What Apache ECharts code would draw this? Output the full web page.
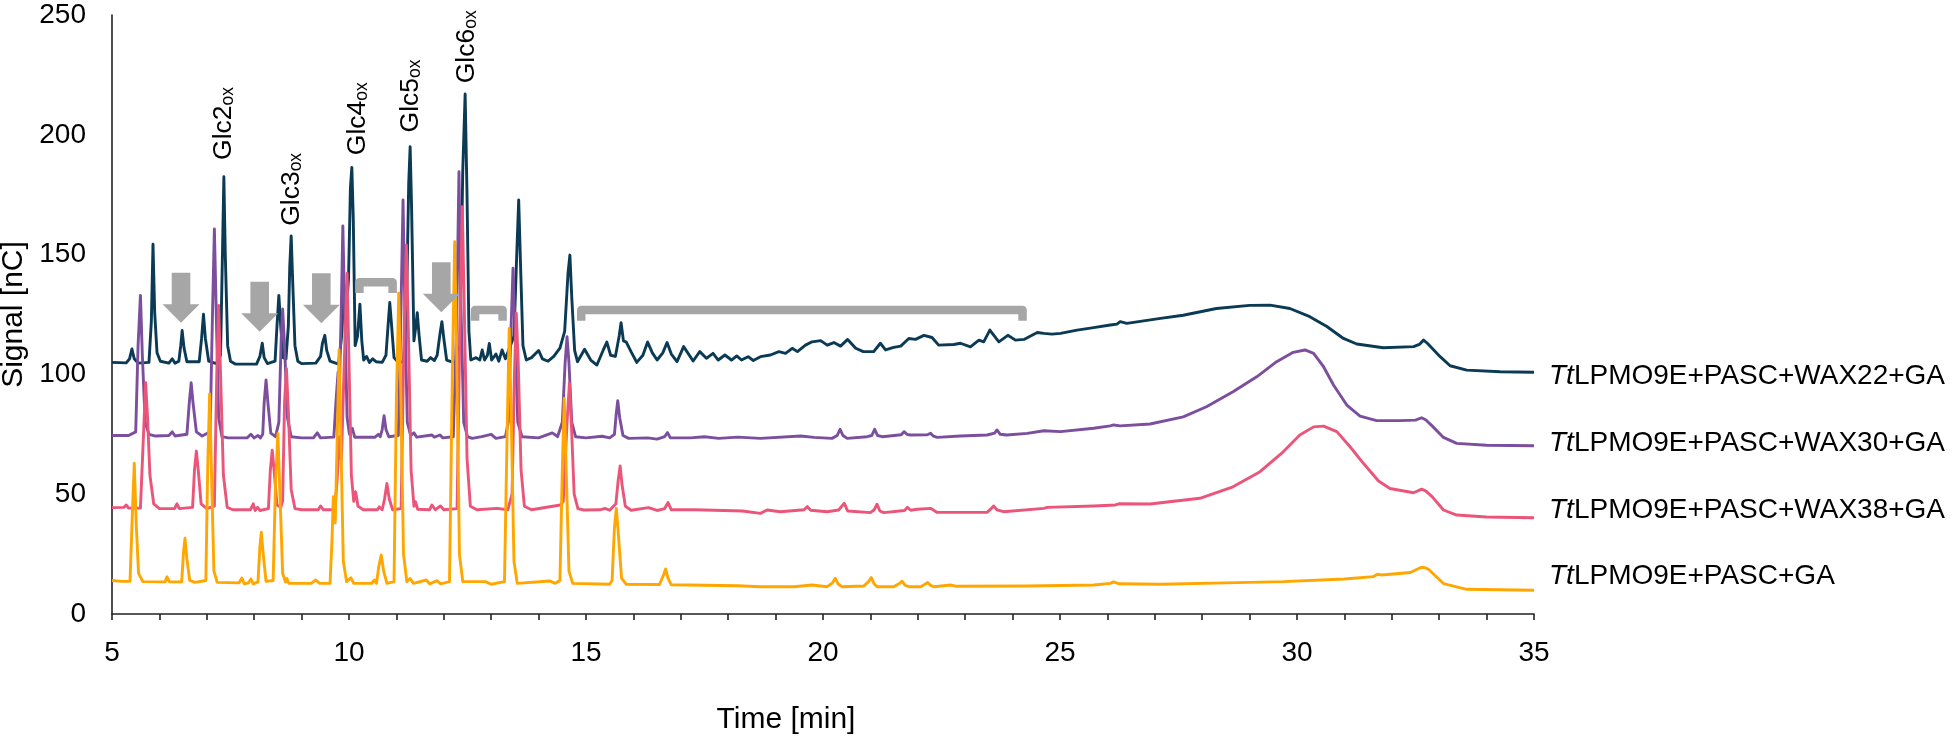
<!DOCTYPE html>
<html><head><meta charset="utf-8">
<script src="https://cdn.jsdelivr.net/npm/echarts@6/dist/echarts.min.js"></script>
<style>html,body{margin:0;padding:0;background:#fff}#c{width:1954px;height:738px}</style>
</head><body><div id="c"></div>
<script>
// ---------------- data (time [min], signal [nC]) ----------------
const seriesNames = ['TtLPMO9E+PASC+WAX22+GA','TtLPMO9E+PASC+WAX30+GA','TtLPMO9E+PASC+WAX38+GA','TtLPMO9E+PASC+GA'];
const xLabelValues = [5,10,15,20,25,30,35];
const yLabelValues = [0,50,100,150,200,250];

const wax22 = [[5.00,105.0],[5.30,104.8],[5.37,106.5],[5.42,110.6],[5.47,106.5],[5.55,104.7],
[5.78,105.0],[5.83,122],[5.865,154.3],[5.90,126],[5.95,109],[6.02,105.5],
[6.20,104.7],[6.27,106.5],[6.33,104.7],
[6.41,105.5],[6.45,112],[6.48,118.3],[6.52,111],[6.58,105.3],
[6.84,105.3],[6.89,115],[6.93,125.1],[6.97,115],[7.04,105.5],[7.20,104.5],
[7.29,108],[7.33,150],[7.36,182.5],[7.39,150],[7.44,112],[7.50,105.5],[7.60,104.3],
[8.05,104.3],[8.12,107.5],[8.17,113],[8.21,107],[8.28,104.5],
[8.44,105.5],[8.48,120],[8.52,133],[8.56,120],[8.61,107],[8.67,106.5],
[8.72,120],[8.75,145],[8.78,157.8],[8.81,140],[8.86,112],[8.92,105.5],[9.00,104.5],
[9.30,104.7],[9.40,107.5],[9.44,113],[9.49,116.3],[9.53,110],[9.60,105.5],[9.78,104.3],
[9.84,115],[9.90,137],[9.94,126],[9.99,140],[10.03,178],[10.06,186.4],[10.09,165],[10.13,112],
[10.18,116],[10.23,129.3],[10.27,114],[10.31,106],[10.37,107.5],[10.43,105],[10.50,106.5],[10.57,105.3],[10.70,105],
[10.78,108],[10.83,122],[10.86,130],[10.90,120],[10.95,107],[11.05,104.7],[11.15,105.5],
[11.21,125],[11.26,180],[11.29,195],[11.32,170],[11.37,114],[11.41,120],[11.44,125.8],[11.48,116],[11.53,106],
[11.65,105.5],[11.72,107],[11.80,105.8],[11.86,108],[11.92,117],[11.96,122],[12.00,115],[12.06,106],[12.25,104.7],
[12.34,112],[12.40,185],[12.45,217],[12.49,175],[12.53,118],[12.57,106],
[12.68,107],[12.76,106],[12.81,110.2],[12.86,106],[12.92,108],[12.96,112.9],[13.01,106],[13.10,108.5],[13.16,105.5],[13.23,110.2],[13.30,106.5],[13.40,111.6],[13.48,116],
[13.53,145],[13.58,172.8],[13.62,145],[13.67,112],[13.74,106],[13.85,107],[14.00,110],[14.08,106.5],[14.20,105.5],[14.32,107.5],[14.45,111],
[14.55,118],[14.62,142],[14.66,149.8],[14.70,132],[14.76,110],[14.82,105.3],[14.97,110.5],[15.10,106],[15.23,103.9],[15.36,110],[15.44,113.5],[15.52,108],[15.62,107.5],[15.70,116],[15.74,121.6],[15.79,114],[15.85,113.5],[15.95,109.5],[16.07,105],[16.20,108],[16.30,113.5],[16.40,109],[16.50,106],[16.62,109],[16.71,113.3],[16.80,108.5],[16.92,105.3],[17.06,111.6],[17.26,105.6],[17.40,109.5],[17.54,106.7],[17.68,108.8],[17.79,106.0],[17.93,108.1],[18.07,106.0],[18.18,107.7],[18.28,106.0],[18.42,107.4],[18.53,105.8],[18.68,107.4],[18.89,108.1],[19.07,109.5],[19.21,108.8],[19.35,110.9],[19.46,109.5],[19.63,112.2],[19.77,113.6],[19.95,114.1],[20.09,112.2],[20.23,113.3],[20.37,111.8],[20.52,114.6],[20.69,110.9],[20.85,109.5],[21.07,109.5],[21.21,113.0],[21.32,110.2],[21.49,111.3],[21.64,111.8],[21.81,115.0],[21.95,114.6],[22.13,116.3],[22.30,115.4],[22.44,112.2],[22.76,112.5],[22.90,113.0],[23.11,111.5],[23.29,114.3],[23.39,113.6],[23.52,118.5],[23.71,113.6],[23.90,116.3],[24.06,114.3],[24.24,114.6],[24.52,117.5],[24.66,117.1],[24.83,116.8],[25.01,117.1],[25.36,118.5],[25.71,119.5],[26.06,120.6],[26.20,121.0],[26.27,122.0],[26.41,121.3],[27.12,123.4],[27.6,124.7],[28.3,127.5],[29.0,128.8],[29.43,128.9],[29.85,127.5],[30.27,124.1],[30.63,120],[30.98,115],[31.26,112.7],[31.82,111.1],[32.46,111.6],[32.58,112.5],[32.67,114.3],[32.75,113],[33.02,107.4],[33.23,103.6],[33.58,101.8],[34.29,101.1],[35.0,100.9]];

const wax30 = [[5.00,74.5],[5.35,74.5],[5.50,76],[5.55,112],[5.60,133],[5.64,108],[5.70,80],[5.78,75],[5.90,74.3],
[6.20,74.5],[6.27,76],[6.33,74.3],
[6.58,75],[6.63,88],[6.67,96.5],[6.71,88],[6.78,76],[6.90,74.3],
[7.07,76],[7.12,125],[7.16,160.7],[7.20,125],[7.25,82],[7.32,74],[7.45,73.5],
[7.85,73.5],[7.93,75],[8.00,73.5],[8.08,74.5],[8.13,73.5],
[8.18,75],[8.21,88],[8.25,97.7],[8.29,88],[8.35,75.5],[8.45,74],
[8.52,80],[8.57,115],[8.60,127.3],[8.64,112],[8.70,82],[8.78,74],[9.0,73.5],
[9.25,73.5],[9.33,75.6],[9.40,73.5],[9.68,73.8],[9.73,90],[9.77,101],[9.80,96],[9.84,130],[9.87,162],[9.91,125],[9.96,82],[10.01,75],[10.07,77.5],[10.12,73.8],
[10.55,73.8],[10.62,75],[10.66,74],[10.70,77],[10.74,82.8],[10.78,77],[10.84,74],
[11.04,74.5],[11.09,120],[11.14,172.8],[11.18,125],[11.23,80],[11.30,74.5],[11.37,75.6],[11.43,73.8],[11.75,74.7],[11.80,73.8],[11.92,74.7],[11.98,73.5],
[12.20,74],[12.27,120],[12.32,184.6],[12.36,130],[12.42,80],[12.50,74],[12.60,73.3],[12.80,74],[13.00,75],[13.10,73.3],[13.30,74],
[13.36,80],[13.42,120],[13.46,144.3],[13.50,120],[13.56,80],[13.65,74],[14.00,73.5],[14.29,75.6],[14.40,74],
[14.50,80],[14.56,105],[14.60,115.7],[14.64,105],[14.70,80],[14.78,74],[15.00,73.5],[15.34,74.2],[15.50,73.5],
[15.60,75],[15.64,84],[15.67,89],[15.71,82],[15.78,74.5],[15.90,73.3],[16.30,73.5],[16.50,73],[16.66,74],[16.72,75.7],[16.78,73.5],[17.2,73.5],[17.5,74],[17.8,73.3],[18.2,73.8],[18.68,73.3],
[19.53,74.3],[19.81,73.7],[20.19,73.3],[20.30,74.5],[20.36,77.1],[20.42,74.5],[20.51,73.3],[20.93,74.0],[21.03,74.5],[21.09,77.1],[21.15,74.5],[21.25,74.0],[21.65,74.8],[21.71,76.1],[21.77,75],[21.85,74.7],[22.20,74.8],[22.27,75.4],[22.33,74.2],[22.41,73.7],[22.90,74.3],[23.46,74.7],[23.62,75.5],[23.67,76.8],[23.74,75],[23.88,74.7],[24.31,75.4],[24.66,76.5],[25.01,76.1],[25.71,77.5],[26.06,78.5],[26.13,78.9],[26.27,78.5],[26.9,79.3],[27.6,82.3],[28.09,86.5],[28.65,92.8],[29.15,99.0],[29.57,105.3],[29.92,109.2],[30.17,110.2],[30.35,108.8],[30.56,103.2],[30.77,95.6],[31.05,87.2],[31.33,82.6],[31.68,80.7],[32.18,80.7],[32.50,80.9],[32.63,81.9],[32.72,81],[32.85,78.5],[33.09,73.7],[33.37,71.2],[34.0,70.4],[35.0,70.2]];

const wax38 = [[5.00,44.4],[5.25,44.5],[5.30,45.5],[5.35,44.2],[5.60,44.2],[5.65,68],[5.71,96.5],[5.75,82],[5.80,58],[5.88,46],[6.00,44],
[6.32,44],[6.37,46],[6.42,44],
[6.70,44.5],[6.74,60],[6.78,68],[6.82,60],[6.88,46],[7.00,44],
[7.16,45],[7.21,100],[7.25,128.8],[7.29,100],[7.35,58],[7.43,44.5],[7.55,43.5],
[7.92,43.5],[7.98,46],[8.02,43.2],[8.07,44.5],[8.12,43.2],
[8.30,44],[8.34,60],[8.38,68.4],[8.42,60],[8.48,45.5],[8.56,44.5],
[8.60,47],[8.64,88],[8.68,102.5],[8.72,85],[8.78,52],[8.86,44],[9.00,43.5],
[9.35,43.5],[9.40,45.1],[9.46,43.5],[9.70,43.5],[9.75,56],[9.80,74],[9.84,64],[9.90,105],[9.96,142.2],[10.00,105],[10.05,58],[10.10,47],[10.14,51],[10.19,45],[10.30,43.5],
[10.60,43.5],[10.64,44.7],[10.70,43.5],[10.75,48],[10.80,54.5],[10.85,48],[10.92,43.5],
[11.10,44],[11.16,115],[11.21,154],[11.25,120],[11.31,60],[11.37,45],[11.40,46.9],[11.45,43.7],[11.70,43.5],[11.75,45.5],[11.82,43.5],[11.93,45.1],[12.00,43.5],
[12.28,44],[12.34,120],[12.39,170],[12.43,130],[12.49,65],[12.56,45],[12.70,43.5],[13.12,44.1],[13.35,43.5],
[13.44,50],[13.49,100],[13.53,125.5],[13.57,105],[13.63,60],[13.70,45],[13.85,43.5],[14.46,45.5],[14.52,47],
[14.60,80],[14.65,96.4],[14.69,80],[14.75,50],[14.83,44],[14.95,43.4],[15.30,43.5],[15.40,44.1],[15.50,43.3],
[15.63,46],[15.68,56],[15.72,61.8],[15.76,54],[15.83,45],[15.95,43.3],[16.32,44.4],[16.50,43.2],[16.66,44],[16.73,46.5],[16.80,43.5],[17.3,43.5],[17.9,43.2],[18.3,43.0],[18.68,42.0],[18.82,43.4],[19.10,42.7],[19.60,43.5],[19.67,44.8],[19.74,43.3],[20.09,42.7],[20.33,43.4],[20.45,46.2],[20.52,43],[21.00,42.3],[21.08,43.5],[21.14,45.8],[21.20,43],[21.28,42.3],[21.72,43.2],[21.78,44.5],[21.85,43.3],[21.99,43.7],[22.27,44.1],[22.41,42.4],[23.46,42.4],[23.55,44],[23.60,45.1],[23.67,43.5],[23.81,42.7],[24.66,44.1],[24.73,44.5],[25.71,45.1],[26.17,45.5],[26.24,46.0],[26.9,45.9],[27.95,48.3],[28.65,53.1],[29.22,59.4],[29.71,67.7],[30.06,74.7],[30.35,78.1],[30.56,78.4],[30.84,76.1],[31.12,69.8],[31.40,62.9],[31.72,55.5],[31.96,52.4],[32.46,50.6],[32.63,52.1],[32.72,51.3],[32.85,49],[33.09,43.4],[33.37,41.3],[34.0,40.5],[35.0,40.2]];

const gaOnly = [[5.00,14.0],[5.20,13.6],[5.38,13.6],[5.43,42],[5.47,62.9],[5.51,38],[5.56,17],[5.65,13.5],
[6.12,13.4],[6.16,15.5],[6.21,13.4],
[6.47,13.4],[6.51,26],[6.54,31.6],[6.58,23],[6.64,14],[6.75,13.2],
[6.98,14],[7.02,62],[7.06,91.8],[7.10,58],[7.15,18],[7.22,13.2],
[7.68,13],[7.74,15],[7.79,12.6],[7.88,13],[7.93,14.6],[7.98,12.6],
[8.08,13.4],[8.12,28],[8.15,34.1],[8.19,25],[8.25,13.6],
[8.40,14],[8.45,55],[8.50,75.4],[8.54,52],[8.60,17],[8.66,13.3],[8.69,14.8],[8.73,12.8],
[9.20,12.8],[9.30,14.2],[9.38,12.8],[9.60,12.8],[9.64,30],[9.67,49],[9.71,38],[9.75,72],[9.79,110.2],[9.83,72],[9.88,22],[9.95,13.5],[10.04,15.1],[10.10,12.8],
[10.48,12.8],[10.53,14.2],[10.58,12.8],[10.63,20],[10.68,24.6],[10.73,18],[10.80,12.8],
[10.95,13.5],[11.00,90],[11.05,133.9],[11.09,95],[11.15,25],[11.22,13.5],[11.29,14.8],[11.36,12.8],[11.63,14.2],[11.70,12.6],[11.86,13.9],[11.93,12.6],
[12.12,13.5],[12.18,100],[12.23,155.4],[12.27,110],[12.33,25],[12.40,13.5],[12.88,13.5],[13.00,12.4],
[13.28,13.5],[13.34,80],[13.38,119.2],[13.42,85],[13.48,22],[13.55,12.8],[14.23,13.8],[14.35,12.8],
[14.45,14],[14.50,60],[14.54,90],[14.58,62],[14.64,18],[14.72,12.8],[15.50,12.4],
[15.55,14],[15.60,36],[15.64,44.1],[15.68,34],[15.75,15],[15.85,12.4],[16.55,12.3],[16.63,16],[16.68,18.8],[16.73,15],[16.80,12.2],[17.5,12],[18.2,11.8],[18.68,11.4],[19.39,11.4],[19.77,12.1],[20.09,11.4],[20.20,13],[20.26,14.9],[20.32,12.5],[20.40,11.4],[20.86,11.7],[20.96,13.5],[21.02,15.2],[21.08,12.5],[21.14,11.4],[21.49,11.4],[21.62,12.8],[21.67,13.7],[21.73,12],[21.81,11.4],[22.06,11.4],[22.16,12.5],[22.21,13.1],[22.27,11.9],[22.34,11.4],[22.69,12.1],[22.80,11.6],[24.31,11.7],[25.71,12.1],[26.06,12.8],[26.13,13.4],[26.25,12.6],[27.12,12.4],[28.5,13],[29.71,13.5],[31.0,14.6],[31.61,15.6],[31.70,16.6],[31.78,16.3],[32.39,17.3],[32.60,19.3],[32.67,19.5],[32.78,18.6],[33.09,12.7],[33.58,10.3],[35.0,9.9]];

// annotations (data coordinates)
const arrowTips = [[6.456,121.6],[8.116,117.8],[9.416,121.3],[11.947,125.9]];
const brackets = [[10.13,11.01,140.2],[12.57,13.33,128.6],[14.81,24.30,128.6]];
const glcNames = ['Glc2','Glc3','Glc4','Glc5','Glc6'];
const glcPos = [[7.33,189.5],[8.76,162],[10.16,191.5],[11.28,201],[12.46,221.5]];

// ---------------- chart ----------------
const FONT = 'Liberation Sans, Arial, sans-serif';
const colors = ['#0b3a55','#7b4f9d','#ea5579','#ffa600'];
const labelDy = [4,-3,-7,-14];
const datasets = [wax22, wax30, wax38, gaOnly];

const lineSeries = datasets.map((d, i) => ({
  type: 'line', name: seriesNames[i], data: d, showSymbol: false, symbol: 'none',
  silent: true, z: 2 + i,
  lineStyle: { color: colors[i], width: 2.9, join: 'round' },
  itemStyle: { color: colors[i] },
  endLabel: {
    show: true, distance: 15, offset: [0, labelDy[i]],
    formatter: () => '{i|Tt}' + seriesNames[i].slice(2),
    fontSize: 28, color: '#000', fontFamily: FONT,
    rich: { i: { fontStyle: 'italic', fontSize: 28, color: '#000', fontFamily: FONT } }
  }
}));

const arrowSeries = {
  type: 'custom', silent: true, z: 10, data: arrowTips,
  renderItem: (params, api) => {
    const p = api.coord([api.value(0), api.value(1)]);
    const x = p[0], y = p[1];
    return { type: 'polygon', shape: { points: [
      [x, y], [x - 18.5, y - 18.5], [x - 9.3, y - 18.5], [x - 9.3, y - 50],
      [x + 9.3, y - 50], [x + 9.3, y - 18.5], [x + 18.5, y - 18.5] ] },
      style: { fill: '#a6a6a6' } };
  }
};

const bracketSeries = {
  type: 'custom', silent: true, z: 10, data: brackets,
  encode: { x: [0, 1], y: 2 },
  renderItem: (params, api) => {
    const a = api.coord([api.value(0), api.value(2)]);
    const b = api.coord([api.value(1), api.value(2)]);
    const w = 8.5, h = 15, y = a[1];
    return { type: 'polyline', shape: { points: [
      [a[0] + w / 2, y + h], [a[0] + w / 2, y + w / 2], [b[0] - w / 2, y + w / 2], [b[0] - w / 2, y + h] ] },
      style: { stroke: '#a6a6a6', lineWidth: w, lineJoin: 'round', fill: null } };
  }
};

const glcSeries = {
  type: 'custom', silent: true, z: 10, data: glcPos.map((p, i) => [p[0], p[1], i]),
  renderItem: (params, api) => {
    const p = api.coord([api.value(0), api.value(1)]);
    const idx = api.value(2);
    return { type: 'text', x: p[0], y: p[1], rotation: Math.PI / 2,
      style: { text: '{a|' + glcNames[idx] + '}{b|ox}', align: 'left', verticalAlign: 'middle',
        fill: '#000',
        rich: {
          a: { fontSize: 26.5, fontFamily: FONT, lineHeight: 29, verticalAlign: 'bottom', fill: '#000' },
          b: { fontSize: 17.5, fontFamily: FONT, lineHeight: 9, verticalAlign: 'bottom', fill: '#000' }
        } } };
  }
};

const chart = echarts.init(document.getElementById('c'), null, { renderer: 'canvas' });
chart.setOption({
  animation: false,
  backgroundColor: '#fff',
  textStyle: { fontFamily: FONT },
  grid: { left: 112, right: 420, top: 15, bottom: 124, containLabel: false, outerBoundsMode: 'none' },
  xAxis: {
    type: 'value', min: 5, max: 35, interval: 1,
    name: 'Time [min]', nameLocation: 'middle', nameGap: 91,
    nameTextStyle: { fontSize: 30, color: '#000', fontFamily: FONT, padding: [0, 74, 0, 0] },
    axisLine: { show: true, lineStyle: { color: '#222', width: 1.6 } },
    axisTick: { show: true, length: 6, lineStyle: { color: '#222', width: 1.6 } },
    axisLabel: { fontSize: 28, color: '#000', margin: 25, fontFamily: FONT,
      formatter: v => xLabelValues.indexOf(v) >= 0 ? String(v) : '' },
    splitLine: { show: false }
  },
  yAxis: {
    type: 'value', min: 0, max: 250, interval: 50,
    name: 'Signal [nC]', nameLocation: 'middle', nameGap: 79,
    nameTextStyle: { fontSize: 30, color: '#000', fontFamily: FONT },
    axisLine: { show: true, lineStyle: { color: '#222', width: 1.6 } },
    axisTick: { show: false },
    axisLabel: { fontSize: 28, color: '#000', margin: 26, fontFamily: FONT,
      formatter: v => yLabelValues.indexOf(v) >= 0 ? String(v) : '' },
    splitLine: { show: false }
  },
  series: [...lineSeries, arrowSeries, bracketSeries, glcSeries]
});
</script>
</body></html>
